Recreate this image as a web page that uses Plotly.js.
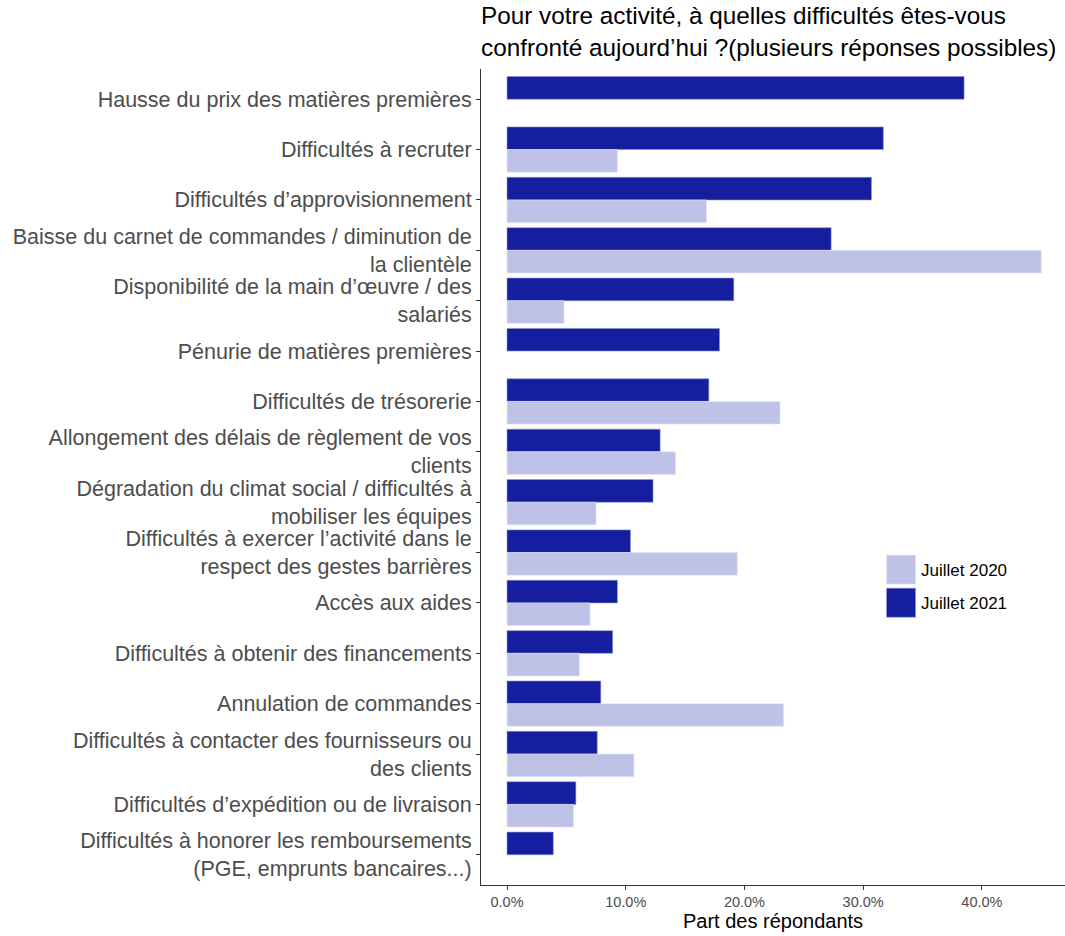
<!DOCTYPE html>
<html>
<head>
<meta charset="utf-8">
<script src="https://cdn.plot.ly/plotly-3.0.1.min.js"></script>
<style>body{margin:0;padding:0;background:#fff;} #chart{width:1065px;height:936px;}</style>
</head>
<body>
<div id="chart"></div>
<script>
const categories = [
  "Hausse du prix des matières premières",
  "Difficultés à recruter",
  "Difficultés d’approvisionnement",
  "Baisse du carnet de commandes / diminution de<br>la clientèle",
  "Disponibilité de la main d’œuvre / des<br>salariés",
  "Pénurie de matières premières",
  "Difficultés de trésorerie",
  "Allongement des délais de règlement de vos<br>clients",
  "Dégradation du climat social / difficultés à<br>mobiliser les équipes",
  "Difficultés à exercer l’activité dans le<br>respect des gestes barrières",
  "Accès aux aides",
  "Difficultés à obtenir des financements",
  "Annulation de commandes",
  "Difficultés à contacter des fournisseurs ou<br>des clients",
  "Difficultés d’expédition ou de livraison",
  "Difficultés à honorer les remboursements<br>(PGE, emprunts bancaires...)"
];
const values2021 = [38.5, 31.7, 30.7, 27.3, 19.1, 17.9, 17.0, 12.9, 12.3, 10.4, 9.3, 8.9, 7.9, 7.6, 5.8, 3.9];
const values2020 = [null, 9.3, 16.8, 45.0, 4.8, null, 23.0, 14.2, 7.5, 19.4, 7.0, 6.1, 23.3, 10.7, 5.6, null];
const seriesNames = ["Juillet 2021", "Juillet 2020"];
const xTicks = [0, 10, 20, 30, 40];
const xTickLabels = ["0.0%", "10.0%", "20.0%", "30.0%", "40.0%"];

const traces = [
  {type: "bar", orientation: "h", name: seriesNames[0], legendgroup: "g2021", legendrank: 2,
   y: categories, x: values2021,
   marker: {color: "#141E9F", line: {color: "#8E93D0", width: 0.6}}, hoverinfo: "x+y"},
  {type: "bar", orientation: "h", name: seriesNames[1], legendgroup: "g2020", legendrank: 1,
   y: categories, x: values2020,
   marker: {color: "#BFC2E7", line: {color: "#E4E6F6", width: 0.6}}, hoverinfo: "x+y"}
];

const layout = {
  width: 1065, height: 936,
  margin: {l: 481, r: 0, t: 69, b: 51},
  paper_bgcolor: "#fff", plot_bgcolor: "#fff",
  font: {family: "Liberation Sans, Arial, sans-serif", color: "#000"},
  barmode: "group", bargap: 0.1, bargroupgap: 0,
  title: {text: "Pour votre activité, à quelles difficultés êtes-vous<br>confronté aujourd’hui ?(plusieurs réponses possibles)",
          font: {size: 24.3, color: "#000"}, x: 481/1065, xanchor: "left", xref: "container",
          y: 0.974, yanchor: "top", yref: "container"},
  xaxis: {range: [-2.19, 47.0], tickvals: xTicks, ticktext: xTickLabels,
          showgrid: false, zeroline: false, showline: true, linecolor: "#333", linewidth: 1,
          ticks: "outside", ticklen: 4, tickcolor: "#333",
          tickfont: {size: 14.5, color: "#4D4D4D"},
          title: {text: "Part des répondants", font: {size: 20, color: "#000"}, standoff: 4}},
  yaxis: {type: "category", categoryorder: "array", categoryarray: categories,
          range: [15.6, -0.6], showgrid: false, zeroline: false, showline: true,
          linecolor: "#333", linewidth: 1, ticks: "outside", ticklen: 4, tickcolor: "#333",
          tickfont: {size: 21.5, color: "#4D4D4D"}},
  legend: {x: 0.685, y: 0.408, xanchor: "left", yanchor: "top", traceorder: "grouped",
           tracegroupgap: 8, font: {size: 17, color: "#000"}, bgcolor: "rgba(0,0,0,0)"},
  showlegend: true
};

Plotly.newPlot("chart", traces, layout, {displayModeBar: false, staticPlot: true}).then(function (gd) {
  // enlarge legend keys to ggplot-like squares
  gd.querySelectorAll("g.legend .legendpoints path").forEach(function (p) {
    p.setAttribute("d", "M14.5,14.5H-14.5V-14.5H14.5Z");
  });
});
</script>
</body>
</html>
